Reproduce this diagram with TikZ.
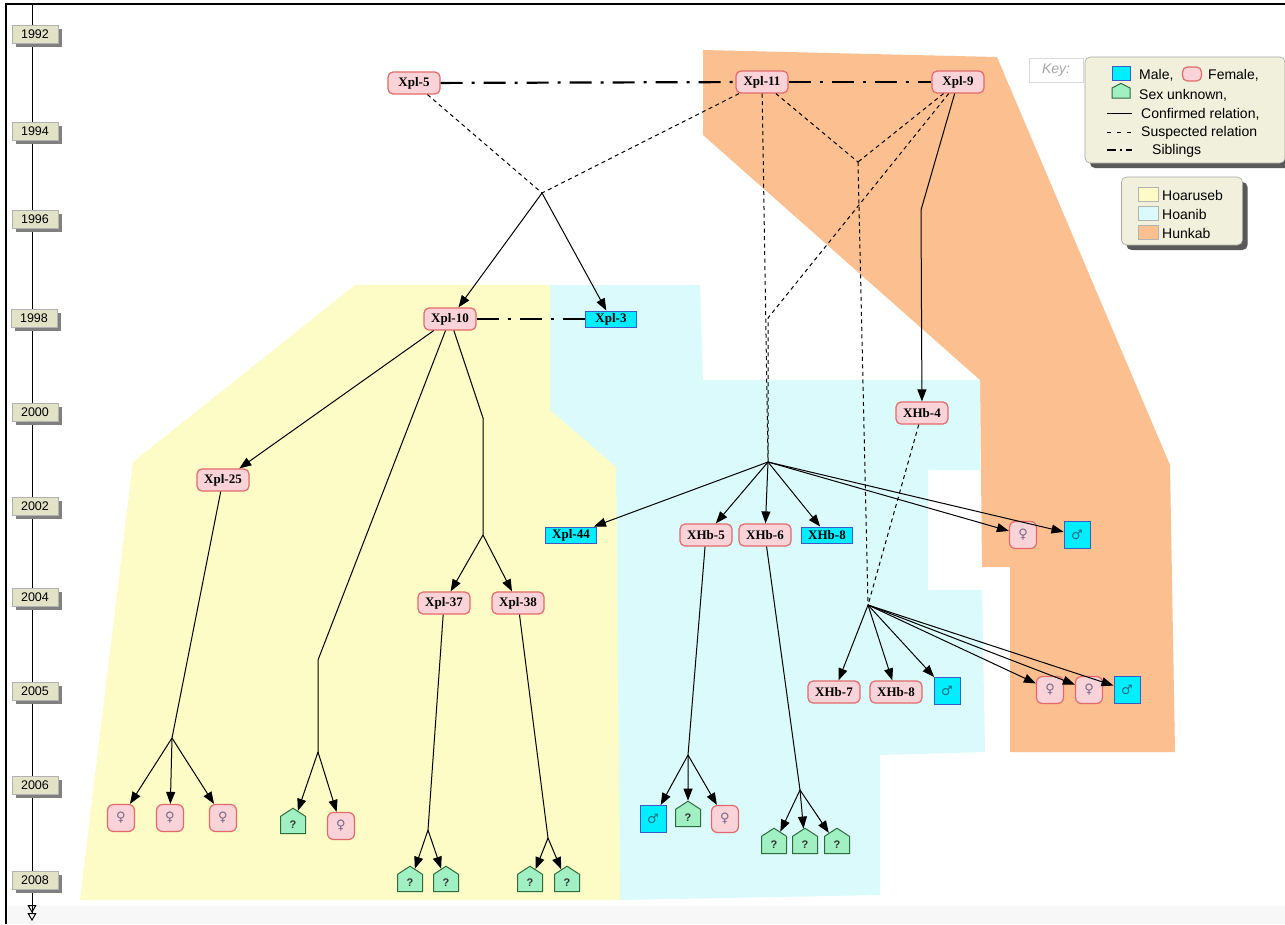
\documentclass[tikz,border=0pt]{standalone}
\usepackage{fontspec}
\setmainfont{Liberation Serif}
\newfontfamily\sans{Liberation Sans}
\newfontfamily\sym{DejaVu Sans}
\usetikzlibrary{arrows.meta,shapes.symbols,shadows}
\definecolor{yel}{HTML}{FDFBC6}
\definecolor{cya}{HTML}{DAFAFC}
\definecolor{ora}{HTML}{FCC090}
\definecolor{femf}{HTML}{F9D3D7}
\definecolor{femb}{HTML}{E26A6A}
\definecolor{malf}{HTML}{00EEFF}
\definecolor{malb}{HTML}{3A5BC7}
\definecolor{unkf}{HTML}{A0F0C4}
\definecolor{unkb}{HTML}{2E6B3A}
\definecolor{yearf}{HTML}{E1E2C6}
\definecolor{keyf}{HTML}{F0F0DC}
\definecolor{symf}{HTML}{7A6A8A}
\definecolor{symm}{HTML}{207080}
\begin{document}
\begin{tikzpicture}[x=1pt,y=-1pt,
  fem/.style={draw=femb, fill=femf, rounded corners=5pt, line width=1.2pt, minimum width=52pt, minimum height=22pt, inner sep=0pt, font=\bfseries\fontsize{13}{13}\selectfont},
  mal/.style={draw=malb, fill=malf, line width=1pt, minimum width=51pt, minimum height=16pt, inner sep=0pt, font=\bfseries\fontsize{13}{13}\selectfont},
  fs/.style={fem, rounded corners=6pt, minimum width=27pt, minimum height=27pt, font=\sym\fontsize{13}{13}\selectfont, text=symf},
  ms/.style={mal, minimum width=26pt, minimum height=27pt, font=\sym\fontsize{13}{13}\selectfont, text=symm},
  unk/.style={shape=signal, signal to=north, signal pointer angle=114, draw=unkb, fill=unkf, line width=1pt, minimum width=25pt, minimum height=19.5pt, inner sep=0pt, font=\sans\bfseries\fontsize{11}{11}\selectfont, text=black!80},
  rel/.style={line width=1pt, black},
  arr/.style={rel, -{Triangle[length=12pt,width=9pt]}},
  sus/.style={line width=1pt, dash pattern=on 4pt off 3.5pt},
  sib/.style={line width=2.2pt, dash pattern=on 22pt off 9pt on 3pt off 9pt},
  yr/.style={fill=yearf, draw=gray!60, line width=0.4pt, minimum width=46pt, minimum height=18pt, inner sep=0pt, font=\sans\fontsize{12.5}{12.5}\selectfont, drop shadow={shadow xshift=4pt, shadow yshift=-4pt, fill=black!50, opacity=1}},
  keytxt/.style={anchor=west, inner sep=0pt, font=\sans\fontsize{14}{14}\selectfont},
  boxk/.style={fill=keyf, draw=gray!70, line width=0.6pt, rounded corners=5pt, drop shadow={shadow xshift=5pt, shadow yshift=-5pt, fill=black!65, opacity=1}},
  sw/.style={draw=gray!60, line width=0.5pt, minimum width=20pt, minimum height=14pt, inner sep=0pt}
]
\useasboundingbox (0,0) rectangle (1285,924);
\fill[white] (0,0) rectangle (1285,924);
\fill[gray!6] (8,906) rectangle (1285,924);
% regions
\fill[ora] (703,50) -- (997,57) -- (1170,465) -- (1175,752) -- (1010,752) -- (1010,567) -- (982,567) -- (980,380) -- (703,135) -- cycle;
\fill[cya] (550,285) -- (700,285) -- (703,380) -- (980,380) -- (980,470) -- (928,470) -- (928,590) -- (982,590) -- (985,752) -- (880,755) -- (880,895) -- (620,900) -- (616,467) -- (550,410) -- cycle;
\fill[yel] (355,285) -- (550,285) -- (550,410) -- (616,467) -- (620,900) -- (80,900) -- (133,462) -- cycle;
% frame
\draw[line width=2.5pt] (6,924) -- (6,4) -- (1285,4);
% timeline
\coordinate (tltop) at (32,4);
\coordinate (tlbot) at (32,921);
\draw[line width=1pt, -{Triangle[open,length=8pt,width=9pt] Triangle[open,length=8pt,width=9pt]}] (tltop) -- (tlbot);
\node[yr] (y1992) at (35,34) {1992};
\node[yr] (y1994) at (35,131) {1994};
\node[yr] (y1996) at (35,219) {1996};
\node[yr] (y1998) at (34,318) {1998};
\node[yr] (y2000) at (35,412) {2000};
\node[yr] (y2002) at (35,506) {2002};
\node[yr] (y2004) at (35,597) {2004};
\node[yr] (y2005) at (35,691) {2005};
\node[yr] (y2006) at (35,785) {2006};
\node[yr] (y2008) at (35,880) {2008};
% nodes
\node[fem] (xpl5) at (414,83) {Xpl-5};
\node[fem] (xpl11) at (762,82) {Xpl-11};
\node[fem] (xpl9) at (958,82) {Xpl-9};
\node[fem] (xpl10) at (450,319) {Xpl-10};
\node[mal] (xpl3) at (611,319) {Xpl-3};
\node[fem] (xpl25) at (223,480) {Xpl-25};
\node[fem] (xhb4) at (922,413) {XHb-4};
\node[mal] (xpl44) at (571,535) {Xpl-44};
\node[fem] (xhb5) at (706,535) {XHb-5};
\node[fem] (xhb6) at (765,535) {XHb-6};
\node[mal] (xhb8m) at (827,535) {XHb-8};
\node[fs] (fA) at (1023,535) {♀};
\node[ms] (mA) at (1077,535) {♂};
\node[fem] (xpl37) at (444,603) {Xpl-37};
\node[fem] (xpl38) at (518,603) {Xpl-38};
\node[fem] (xhb7) at (834,692) {XHb-7};
\node[fem] (xhb8f) at (896,692) {XHb-8};
\node[ms] (mB) at (947,691) {♂};
\node[fs] (fB) at (1050,690) {♀};
\node[fs] (fC) at (1089,690) {♀};
\node[ms] (mC) at (1127,690) {♂};
\node[fs] (f1) at (121,818) {♀};
\node[fs] (f2) at (170,818) {♀};
\node[fs] (f3) at (223,818) {♀};
\node[unk] (u1) at (293,825) {?};
\node[fs] (f4) at (341,826) {♀};
\node[unk] (u2) at (410,883) {?};
\node[unk] (u3) at (446,883) {?};
\node[unk] (u4) at (530,883) {?};
\node[unk] (u5) at (567,883) {?};
\node[ms] (m1) at (653,819) {♂};
\node[unk] (u6) at (688,818) {?};
\node[fs] (f5) at (725,819) {♀};
\node[unk] (u7) at (774,845) {?};
\node[unk] (u8) at (805,845) {?};
\node[unk] (u9) at (837,845) {?};
% junctions
\coordinate (J1) at (542,193);
\coordinate (J2) at (858,162);
\coordinate (J3) at (868,605);
\coordinate (J4) at (768,462);
\coordinate (K9) at (768,318);
\coordinate (B9) at (921,210);
\coordinate (Ba) at (318,660);
\coordinate (Bb) at (318,752);
\coordinate (Bc) at (483,418);
\coordinate (Bd) at (483,535);
\coordinate (J25) at (172,738);
\coordinate (J37) at (428,830);
\coordinate (J38) at (548,838);
\coordinate (J5) at (688,755);
\coordinate (J6) at (800,790);
% edges
\draw[sib] (xpl5) -- (xpl11);
\draw[sib] (xpl11) -- (xpl9);
\draw[sib] (xpl10) -- (xpl3);
\draw[sus] (xpl5) -- (J1);
\draw[sus] (xpl11) -- (J1);
\draw[arr] (J1) -- (xpl10);
\draw[arr] (J1) -- (xpl3);
\draw[sus] (xpl11) -- (J2);
\draw[sus] (xpl9) -- (J2);
\draw[sus] (J2) -- (J3);
\draw[sus] (xpl11) -- (J4);
\draw[sus] (xpl9) -- (K9) -- (J4);
\draw[arr] (xpl9) -- (B9) -- (xhb4);
\draw[sus] (xhb4) -- (J3);
\foreach \t in {xpl44,xhb5,xhb6,xhb8m,fA,mA} \draw[arr] (J4) -- (\t);
\foreach \t in {xhb7,xhb8f,mB,fB,fC,mC} \draw[arr] (J3) -- (\t);
\draw[arr] (xpl10) -- (xpl25);
\draw[rel] (xpl10) -- (Ba) -- (Bb);
\draw[arr] (Bb) -- (u1);
\draw[arr] (Bb) -- (f4);
\draw[rel] (xpl10) -- (Bc) -- (Bd);
\draw[arr] (Bd) -- (xpl37);
\draw[arr] (Bd) -- (xpl38);
\draw[rel] (xpl25) -- (J25);
\foreach \t in {f1,f2,f3} \draw[arr] (J25) -- (\t);
\draw[rel] (xpl37) -- (J37);
\foreach \t in {u2,u3} \draw[arr] (J37) -- (\t);
\draw[rel] (xpl38) -- (J38);
\foreach \t in {u4,u5} \draw[arr] (J38) -- (\t);
\draw[rel] (xhb5) -- (J5);
\foreach \t in {m1,u6,f5} \draw[arr] (J5) -- (\t);
\draw[rel] (xhb6) -- (J6);
\foreach \t in {u7,u8,u9} \draw[arr] (J6) -- (\t);
% legend
\node[draw=gray!30, fill=white, minimum width=54pt, minimum height=24pt, inner sep=0pt, font=\sans\itshape\fontsize{14}{14}\selectfont, text=gray!70] (keylbl) at (1056,70) {Key:};
\node[boxk, minimum width=200pt, minimum height=106pt] (keybox) at (1185,110) {};
\node[mal, minimum width=18pt, minimum height=14pt] (kmal) at (1121,73) {};
\node[keytxt] (tmal) at (1139,75) {Male,};
\node[fem, minimum width=19pt, minimum height=14pt] (kfem) at (1192,74) {};
\node[keytxt] (tfem) at (1208,75) {Female,};
\node[unk, minimum width=18pt, minimum height=10pt, signal pointer angle=125] (kunk) at (1121,93) {};
\node[keytxt] (tunk) at (1139,95) {Sex unknown,};
\coordinate (la1) at (1107,113); \coordinate (lb1) at (1132,113);
\draw[rel] (la1) -- (lb1);
\node[keytxt] (tcon) at (1141,114) {Confirmed relation,};
\coordinate (la2) at (1107,132); \coordinate (lb2) at (1132,132);
\draw[line width=1pt, dash pattern=on 4pt off 6pt] (la2) -- (lb2);
\node[keytxt] (tsus) at (1141,133) {Suspected relation};
\coordinate (la3) at (1107,150); \coordinate (lb3) at (1132,150);
\draw[line width=1.5pt, dash pattern=on 9pt off 4pt on 2pt off 4pt] (la3) -- (lb3);
\node[keytxt] (tsib) at (1152,151) {Siblings};
\node[boxk, minimum width=121pt, minimum height=68pt] (regbox) at (1182,211) {};
\node[sw, fill=yel] (s1) at (1148,194) {};
\node[keytxt] (r1) at (1162,195) {Hoaruseb};
\node[sw, fill=cya] (s2) at (1148,213) {};
\node[keytxt] (r2) at (1162,214) {Hoanib};
\node[sw, fill=ora] (s3) at (1148,232) {};
\node[keytxt] (r3) at (1162,233) {Hunkab};
\end{tikzpicture}
\end{document}
